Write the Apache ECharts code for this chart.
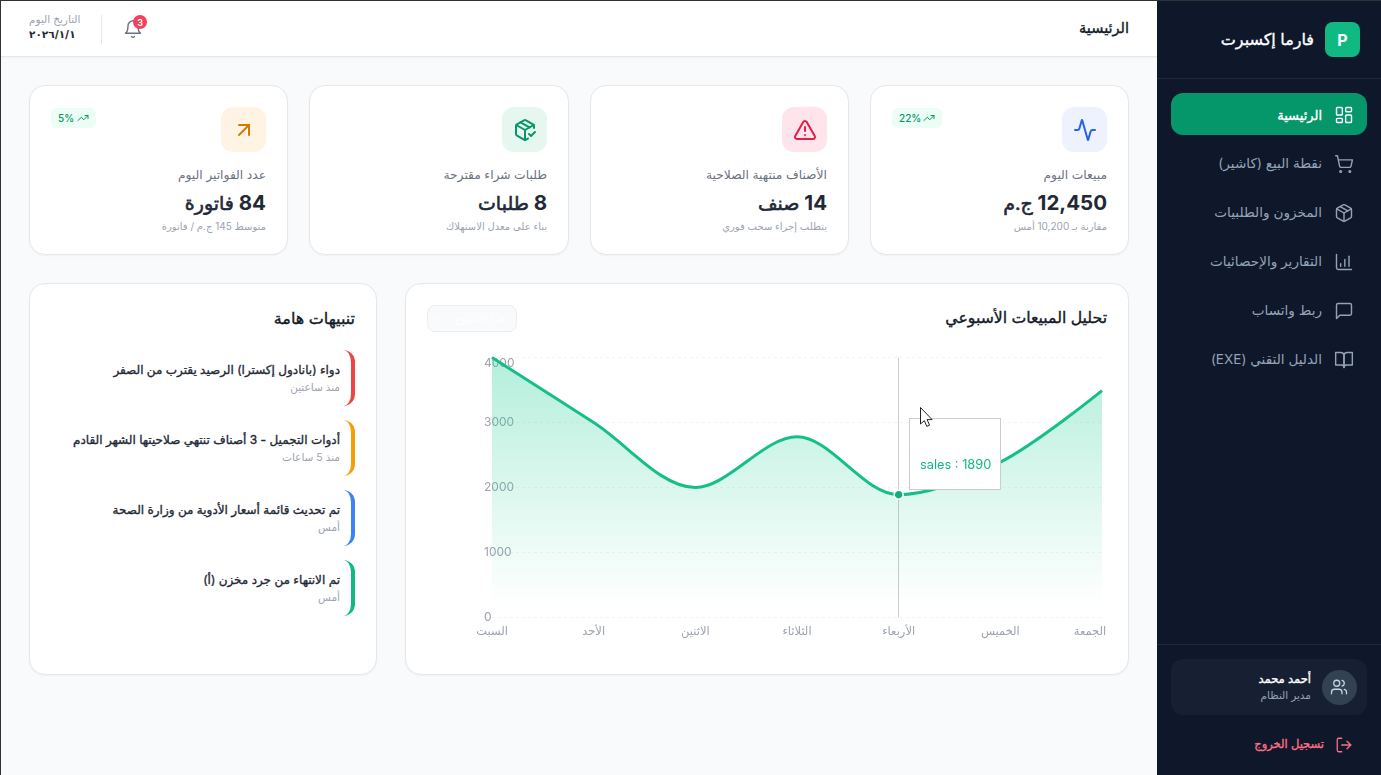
<!DOCTYPE html>
<html lang="ar" dir="rtl">
<head>
<meta charset="utf-8">
<title>فارما إكسبرت</title>
<script src="https://cdn.jsdelivr.net/npm/echarts@6/dist/echarts.min.js"></script>
<style>
  * { box-sizing: border-box; margin: 0; padding: 0; }
  html, body { width: 1381px; height: 775px; overflow: hidden; background: #f9fafb;
    font-family: Inter, "DejaVu Sans", sans-serif; color: #1f2937; }
  .t { position: absolute; white-space: nowrap; direction: rtl; line-height: 1; transform: translateY(-50%); }
  .semi { font-weight: 400; -webkit-text-stroke: 0.35px; }
  svg.ic { position: absolute; fill: none; stroke: currentColor; stroke-width: 2; stroke-linecap: round; stroke-linejoin: round; }
  #frame-top { position: absolute; left: 0; top: 0; width: 1381px; height: 1px; background: #2f3338; z-index: 9; }
  #frame-left { position: absolute; left: 0; top: 0; width: 1px; height: 775px; background: #2f3338; z-index: 9; }
  #side { position: absolute; left: 1157px; top: 0; width: 224px; height: 775px; background: #0f172a; }
  #head { position: absolute; left: 0; top: 0; width: 1157px; height: 57px; background: #fff; border-bottom: 1px solid #e5e7eb; box-shadow: 0 1px 2px rgba(0,0,0,.04); }
  .card { position: absolute; background: #fff; border: 1px solid #e5e7eb; border-radius: 16px; box-shadow: 0 1px 2px rgba(0,0,0,.04); }
  .bar { position: absolute; width: 24px; height: 56px; border-right: 4px solid; border-radius: 14px; }
  #main { position: absolute; left: 406px; top: 284px; width: 722px; height: 390px; }
  #pointer { position: absolute; left: 919px; top: 406px; z-index: 99999999; }
</style>
</head>
<body>
<div id="head"></div>
<div id="side"></div>
<div id="page"></div>
<div id="main"></div>
<svg id="pointer" width="15" height="22" viewBox="0 0 15 22"><path d="M1.5 1.5v16.5l3.8-3.4 2.5 5.8 2.8-1.2-2.5-5.6h5z" fill="#fff" stroke="#1f2329" stroke-width="1"/></svg>
<div id="frame-top"></div><div id="frame-left"></div>

<script>
// chart data
const days = ['السبت', 'الأحد', 'الاثنين', 'الثلاثاء', 'الأربعاء', 'الخميس', 'الجمعة'];
const sales = [4000, 3000, 2000, 2780, 1890, 2390, 3490];
const activeDay = 4;

// stat cards, right to left
const statLabels = ['مبيعات اليوم', 'الأصناف منتهية الصلاحية', 'طلبات شراء مقترحة', 'عدد الفواتير اليوم'];
const statNumbers = ['12,450', '14', '8', '84'];
const statUnits = ['ج.م', 'صنف', 'طلبات', 'فاتورة'];
const statNotes = ['مقارنة بـ 10,200 أمس', 'يتطلب إجراء سحب فوري', 'بناء على معدل الاستهلاك', 'متوسط 145 ج.م / فاتورة'];
const statBadges = ['22%', '', '', '5%'];

const alertTitles = ['دواء (بانادول إكسترا) الرصيد يقترب من الصفر', 'أدوات التجميل - 3 أصناف تنتهي صلاحيتها الشهر القادم', 'تم تحديث قائمة أسعار الأدوية من وزارة الصحة', 'تم الانتهاء من جرد مخزن (أ)'];
const alertTimes = ['منذ ساعتين', 'منذ 5 ساعات', 'أمس', 'أمس'];

const navLabels = ['الرئيسية', 'نقطة البيع (كاشير)', 'المخزون والطلبيات', 'التقارير والإحصائيات', 'ربط واتساب', 'الدليل التقني (EXE)'];

const icons = {
  grid: '<rect x="3" y="3" width="7" height="9" rx="1"/><rect x="14" y="3" width="7" height="5" rx="1"/><rect x="14" y="12" width="7" height="9" rx="1"/><rect x="3" y="16" width="7" height="5" rx="1"/>',
  cart: '<circle cx="8" cy="21" r="1"/><circle cx="19" cy="21" r="1"/><path d="M2.05 2.05h2l2.66 12.42a2 2 0 0 0 2 1.58h9.78a2 2 0 0 0 1.95-1.57l1.65-7.43H5.12"/>',
  box: '<path d="M21 8a2 2 0 0 0-1-1.73l-7-4a2 2 0 0 0-2 0l-7 4A2 2 0 0 0 3 8v8a2 2 0 0 0 1 1.73l7 4a2 2 0 0 0 2 0l7-4A2 2 0 0 0 21 16Z"/><path d="m3.3 7 8.7 5 8.7-5"/><path d="M12 22V12"/><path d="m7.5 4.27 9 5.15"/>',
  bars: '<path d="M3 3v16a2 2 0 0 0 2 2h16"/><path d="M8 17v-3"/><path d="M13 17V9"/><path d="M18 17V5"/>',
  chat: '<path d="M21 15a2 2 0 0 1-2 2H7l-4 4V5a2 2 0 0 1 2-2h14a2 2 0 0 1 2 2z"/>',
  book: '<path d="M2 3h6a4 4 0 0 1 4 4v14a3 3 0 0 0-3-3H2z"/><path d="M22 3h-6a4 4 0 0 0-4 4v14a3 3 0 0 1 3-3h7z"/>',
  users: '<path d="M16 21v-2a4 4 0 0 0-4-4H6a4 4 0 0 0-4 4v2"/><circle cx="9" cy="7" r="4"/><path d="M22 21v-2a4 4 0 0 0-3-3.87"/><path d="M16 3.13a4 4 0 0 1 0 7.75"/>',
  logout: '<path d="M9 21H5a2 2 0 0 1-2-2V5a2 2 0 0 1 2-2h4"/><polyline points="16 17 21 12 16 7"/><line x1="21" y1="12" x2="9" y2="12"/>',
  bell: '<path d="M6 8a6 6 0 0 1 12 0c0 7 3 9 3 9H3s3-2 3-9"/><path d="M10.3 21a1.94 1.94 0 0 0 3.4 0"/>',
  pulse: '<path d="M22 12h-2.48a2 2 0 0 0-1.93 1.46l-2.35 8.36a.25.25 0 0 1-.48 0L9.24 2.18a.25.25 0 0 0-.48 0l-2.35 8.36A2 2 0 0 1 4.49 12H2"/>',
  alert: '<path d="m21.73 18-8-14a2 2 0 0 0-3.48 0l-8 14A2 2 0 0 0 4 21h16a2 2 0 0 0 1.73-3"/><path d="M12 9v4"/><path d="M12 17h.01"/>',
  boxcheck: '<path d="m16 16 2 2 4-4"/><path d="M21 10V8a2 2 0 0 0-1-1.73l-7-4a2 2 0 0 0-2 0l-7 4A2 2 0 0 0 3 8v8a2 2 0 0 0 1 1.73l7 4a2 2 0 0 0 2 0l2-1.14"/><path d="m7.5 4.27 9 5.15"/><polyline points="3.29 7 12 12 20.71 7"/><line x1="12" y1="22" x2="12" y2="12"/>',
  arrow: '<path d="M7 7h10v10"/><path d="M7 17 17 7"/>',
  trend: '<polyline points="22 7 13.5 15.5 8.5 10.5 2 17"/><polyline points="16 7 22 7 22 13"/>',
  chevron: '<path d="m6 9 6 6 6-6"/>'
};

const out = [];

function text(str, right, y, size, color, cls) {
  out.push(`<div class="t ${cls || ''}" style="right:${1381 - right}px;top:${y}px;font-size:${size}px;color:${color}">${str}</div>`);
}
function icon(name, x, y, size, color, sw) {
  out.push(`<svg class="ic" viewBox="0 0 24 24" style="left:${x}px;top:${y}px;width:${size}px;height:${size}px;color:${color};stroke-width:${sw || 2}">${icons[name]}</svg>`);
}
function box(x, y, w, h, css) {
  out.push(`<div style="position:absolute;left:${x}px;top:${y}px;width:${w}px;height:${h}px;${css}"></div>`);
}

// sidebar
box(1157, 78, 224, 1, 'background:#1e293b');
box(1325, 22, 35, 35, 'background:#10b981;border-radius:8px');
out.push('<div class="t" style="left:1325px;width:35px;text-align:center;top:39.5px;font-size:16px;font-weight:700;color:#fff">P</div>');
text('فارما إكسبرت', 1314, 39, 16, '#fff', 'semi');
box(1171, 93, 196, 42, 'background:#059669;border-radius:12px');
const navIcons = ['grid', 'cart', 'box', 'bars', 'chat', 'book'];
navLabels.forEach((label, i) => {
  const y = 115 + i * 49, on = i === 0;
  icon(navIcons[i], 1334, y - 10, 20, on ? '#fff' : '#94a3b8', 1.7);
  text(label, 1322, y, on ? 13 : 13.6, on ? '#fff' : '#94a3b8', on ? 'semi' : '');
});
box(1157, 644, 224, 1, 'background:#1e293b');
box(1171, 659, 196, 56, 'background:#172033;border-radius:12px');
box(1322, 670, 35, 35, 'background:#334155;border-radius:50%');
icon('users', 1330, 678, 18, '#cbd5e1', 1.7);
text('أحمد محمد', 1311, 680, 11.5, '#fff', 'semi');
text('مدير النظام', 1311, 696, 10.5, '#94a3b8');
icon('logout', 1335, 736, 18, '#fb7185', 1.7);
text('تسجيل الخروج', 1324, 745, 11.5, '#fb7185', 'semi');

// header
text('الرئيسية', 1129, 28, 14.5, '#111827', 'semi');
out.push('<div class="t" style="left:29px;top:20px;font-size:10.5px;color:#9ca3af">التاريخ اليوم</div>');
out.push('<div class="t" style="left:29px;top:35px;font-size:10.5px;letter-spacing:-1.2px;font-weight:700;color:#1f2937">٢٠٢٦/١/١</div>');
box(101, 15, 1, 29, 'background:#e5e7eb');
icon('bell', 123, 19, 20, '#6b7280', 1.7);
box(133, 15, 14, 14, 'background:#f43f5e;border-radius:50%');
out.push('<div class="t" style="left:133px;width:14px;text-align:center;top:22px;font-size:9px;font-weight:600;color:#fff">3</div>');

// stat cards
const cardX = [870, 590, 309, 29], cardW = [259, 259, 260, 259];
const iconBg = ['#eef2ff', '#ffe4ec', '#e6f7f0', '#fff3e3'];
const iconFg = ['#2563eb', '#e11d48', '#059669', '#d97706'];
const iconNames = ['pulse', 'alert', 'boxcheck', 'arrow'];
statLabels.forEach((label, i) => {
  const x = cardX[i], right = x + cardW[i] - 22;
  out.push(`<div class="card" style="left:${x}px;top:85px;width:${cardW[i]}px;height:170px"></div>`);
  box(right - 45, 107, 45, 45, `background:${iconBg[i]};border-radius:12px`);
  icon(iconNames[i], right - 34.5, 117.5, 24, iconFg[i], 2);
  text(label, right, 175, 12.3, '#6b7280');
  out.push(`<div class="t" style="right:${1381 - right}px;top:203px;font-size:20.5px;font-weight:700;color:#1f2937">${statNumbers[i]} <span style="font-size:19px;font-weight:400;-webkit-text-stroke:0.6px">${statUnits[i]}</span></div>`);
  text(statNotes[i], right, 226, 10, '#9ca3af');
  if (statBadges[i]) {
    const w = statBadges[i].length > 2 ? 50 : 45;
    box(x + 22, 108, w, 20, 'background:#ecfdf5;border-radius:6px');
    out.push(`<div class="t" style="left:${x + 29}px;top:118px;font-size:10px;font-weight:500;color:#059669;direction:ltr">${statBadges[i]}</div>`);
    icon('trend', x + 22 + w - 19, 112, 12, '#059669', 2);
  }
});

// chart card
out.push('<div class="card" style="left:405px;top:283px;width:724px;height:392px"></div>');
text('تحليل المبيعات الأسبوعي', 1107, 318, 15.7, '#111827', 'semi');
box(427, 305, 90, 27, 'background:#f9fafb;border:1px solid #eceef1;border-radius:8px');
text('هذا الأسبوع', 505, 318.5, 10.5, '#fff');
icon('chevron', 432, 314, 10, '#fff');

// alerts
out.push('<div class="card" style="left:29px;top:283px;width:348px;height:392px"></div>');
text('تنبيهات هامة', 355, 318, 16, '#111827', 'semi');
const alertColors = ['#ef4444', '#f59e0b', '#3b82f6', '#10b981'];
alertTitles.forEach((title, i) => {
  const y = 350 + i * 70;
  out.push(`<div class="bar" style="left:331px;top:${y}px;border-right-color:${alertColors[i]}"></div>`);
  text(title, 340, y + 20, 12, '#1f2937', 'semi');
  text(alertTimes[i], 340, y + 38, 10.5, '#9ca3af');
});

document.getElementById('page').innerHTML = out.join('');

// Initialize the ECharts instance based on the prepared DOM
var myChart = echarts.init(document.getElementById('main'));

var option = {
  animation: false,
  textStyle: { fontFamily: 'Inter, "DejaVu Sans", sans-serif' },
  grid: { left: 86, right: 26, top: 73.5, bottom: 56.5 },
  tooltip: {
    trigger: 'axis',
    alwaysShowContent: true,
    triggerOn: 'none',
    transitionDuration: 0,
    position: [503, 134],
    backgroundColor: '#fff',
    borderColor: '#ccc',
    borderWidth: 1,
    borderRadius: 0,
    padding: 0,
    extraCssText: 'box-shadow:none;',
    axisPointer: { type: 'line', z: 1, lineStyle: { color: '#ccc', width: 1, type: 'solid' } },
    formatter: function (params) {
      const p = params[0];
      return `<div dir="ltr" style="width:90px;height:70px;padding:38px 0 0 10px;font-size:12.8px;line-height:16px;color:#10b981;font-family:Inter,sans-serif">sales : ${p.value}</div>`;
    }
  },
  xAxis: {
    type: 'category',
    boundaryGap: false,
    data: days,
    axisLine: { show: false },
    axisTick: { show: false },
    axisLabel: {
      color: '#9ca3af',
      fontSize: 11.5,
      margin: 8,
      showMinLabel: true,
      showMaxLabel: true,
      interval: 0,
      formatter: function (value, index) {
        return index === days.length - 1 ? '{last|' + value + '}' : value;
      },
      rich: { last: { color: '#9ca3af', fontSize: 11.5, padding: [0, 24, 0, 0] } }
    }
  },
  yAxis: {
    type: 'value',
    min: 0,
    max: 4000,
    interval: 1000,
    axisLine: { show: false },
    axisTick: { show: false },
    axisLabel: {
      color: '#9ca3af',
      fontSize: 12,
      align: 'left',
      margin: 8,
      verticalAlignMaxLabel: 'top',
      formatter: function (value) { return String(value); }
    },
    splitLine: { lineStyle: { color: '#f3f4f6', type: [3, 3] } }
  },
  series: [
    {
      name: 'sales',
      type: 'line',
      data: sales,
      smooth: 0.33,
      showSymbol: false,
      symbol: 'circle',
      symbolSize: 9,
      lineStyle: { color: '#14ae7e', width: 3 },
      itemStyle: { color: '#14ae7e', borderColor: '#fff', borderWidth: 1.5 },
      emphasis: { scale: false, itemStyle: { color: '#14ae7e', borderColor: '#fff', borderWidth: 1.5 } },
      areaStyle: {
        opacity: 1,
        color: new echarts.graphic.LinearGradient(0, 0, 0, 1, [
          { offset: 0.05, color: 'rgba(16,185,129,0.3)' },
          { offset: 0.95, color: 'rgba(16,185,129,0)' }
        ], false)
      }
    }
  ]
};

myChart.setOption(option);
myChart.dispatchAction({ type: 'showTip', seriesIndex: 0, dataIndex: activeDay });
</script>
</body>
</html>
